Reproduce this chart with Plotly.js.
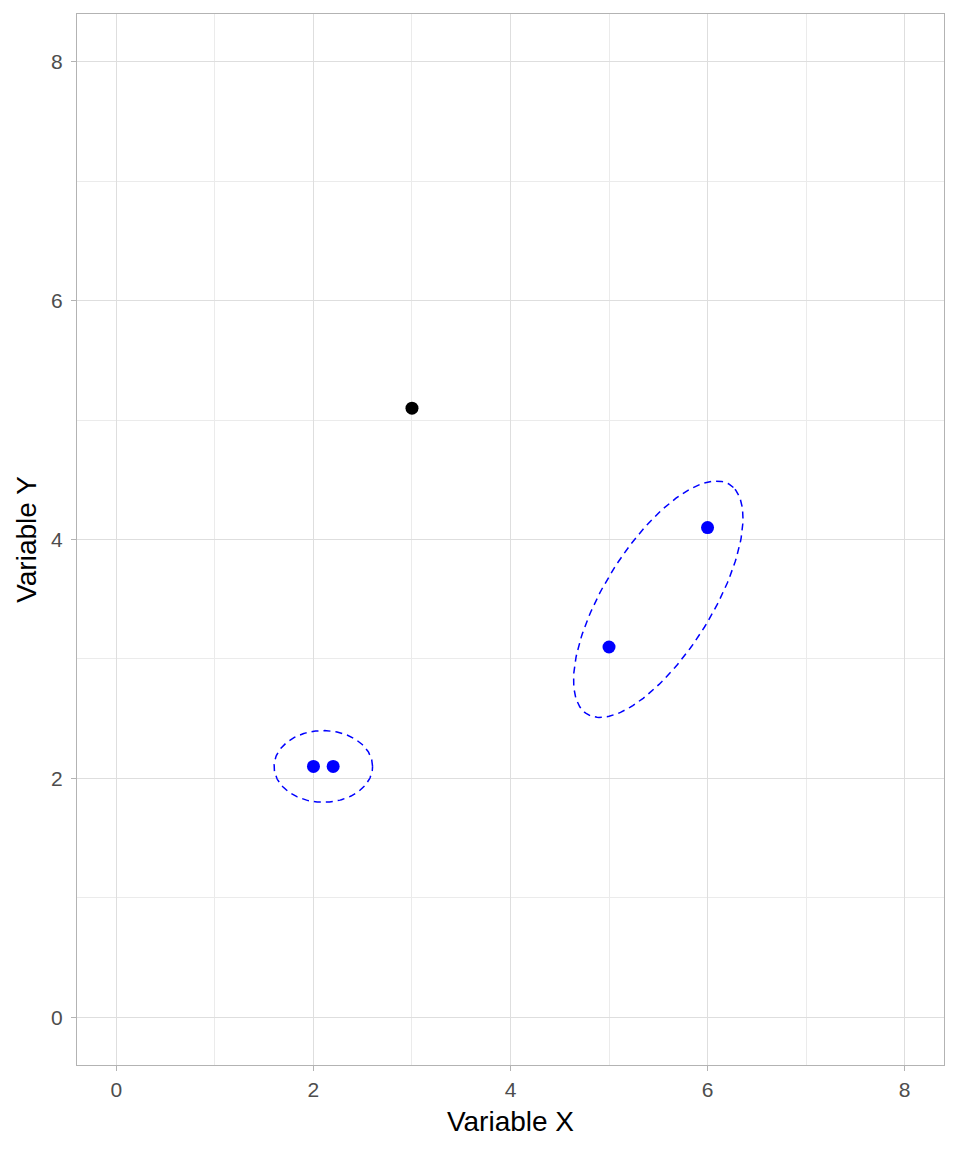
<!DOCTYPE html>
<html>
<head>
<meta charset="utf-8">
<script src="https://cdn.plot.ly/plotly-3.0.1.min.js"></script>
<style>html,body{margin:0;padding:0;background:#fff}</style>
</head>
<body>
<div id="chart" style="width:960px;height:1152px"></div>
<script>
// Points
const clusteredX = [2, 2.2, 5, 6];
const clusteredY = [2.1, 2.1, 3.1, 4.1];
const outlierX = [3];
const outlierY = [5.1];

// Ellipse parameters (center x, center y, semi-major, semi-minor, angle degrees)
const ellipseCx = [2.1, 5.5];
const ellipseCy = [2.1, 3.5];
const ellipseA = [0.5, 1.207];
const ellipseB = [0.3, 0.513];
const ellipseAngle = [0, 50.8];

const tickVals = [0, 2, 4, 6, 8];

function ellipsePath(cx, cy, a, b, angDeg) {
  const th = angDeg * Math.PI / 180;
  const xs = [], ys = [];
  const n = 200;
  for (let i = 0; i <= n; i++) {
    const t = 2 * Math.PI * i / n;
    xs.push(cx + a * Math.cos(th) * Math.cos(t) - b * Math.sin(th) * Math.sin(t));
    ys.push(cy + a * Math.sin(th) * Math.cos(t) + b * Math.cos(th) * Math.sin(t));
  }
  return {xs, ys};
}

const traces = [];
for (let k = 0; k < ellipseCx.length; k++) {
  const e = ellipsePath(ellipseCx[k], ellipseCy[k], ellipseA[k], ellipseB[k], ellipseAngle[k]);
  traces.push({
    x: e.xs, y: e.ys, type: 'scatter', mode: 'lines',
    line: {color: '#0000FF', width: 1.5, dash: '7px,5px'},
    hoverinfo: 'skip', showlegend: false
  });
}
traces.push({
  x: clusteredX, y: clusteredY, type: 'scatter', mode: 'markers',
  marker: {color: '#0000FF', size: 13}, showlegend: false
});
traces.push({
  x: outlierX, y: outlierY, type: 'scatter', mode: 'markers',
  marker: {color: '#000000', size: 13}, showlegend: false
});

const FONT = 'Liberation Sans, Arial, sans-serif';
const axisCommon = {
  range: [-0.4, 8.4],
  tickvals: tickVals,
  ticktext: tickVals.map(String),
  showgrid: true,
  gridcolor: '#DEDEDE',
  gridwidth: 1,
  minor: {dtick: 1, tick0: 0, showgrid: true, gridcolor: '#EBEBEB', gridwidth: 1, ticks: ''},
  zeroline: false,
  showline: true,
  linecolor: '#B3B3B3',
  linewidth: 1,
  mirror: true,
  ticks: 'outside',
  ticklen: 5,
  tickcolor: '#B3B3B3',
  tickwidth: 1,
  tickfont: {family: FONT, size: 21, color: '#4D4D4D'}
};

const layout = {
  width: 960, height: 1152,
  margin: {l: 77, r: 16, t: 14, b: 87},
  paper_bgcolor: '#FFFFFF',
  plot_bgcolor: '#FFFFFF',
  xaxis: Object.assign({}, axisCommon, {
    ticklabelstandoff: 1,
    title: {text: 'Variable X', font: {family: FONT, size: 28, color: '#000000'}, standoff: 11}
  }),
  yaxis: Object.assign({}, axisCommon, {
    ticklabelstandoff: 4,
    title: {text: 'Variable Y', font: {family: FONT, size: 28, color: '#000000'}, standoff: 6}
  }),
  showlegend: false
};

Plotly.newPlot('chart', traces, layout, {displayModeBar: false, staticPlot: true});
</script>
</body>
</html>
